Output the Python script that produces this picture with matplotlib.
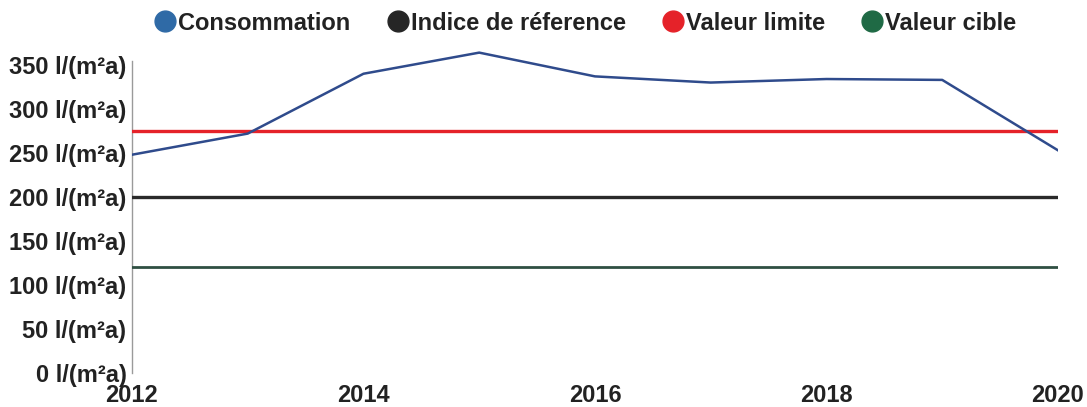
import matplotlib.pyplot as plt
from matplotlib.lines import Line2D

# data
years = [2012, 2013, 2014, 2015, 2016, 2017, 2018, 2019, 2020]
consommation = [248, 272, 340, 364, 337, 330, 334, 333, 253]
indice_reference = 200
valeur_limite = 275
valeur_cible = 120

y_ticks = [0, 50, 100, 150, 200, 250, 300, 350]
x_ticks = [2012, 2014, 2016, 2018, 2020]
unit = "l/(m²a)"

legend_names = ["Consommation", "Indice de réference", "Valeur limite", "Valeur cible"]
legend_colors = ["#2f6aa6", "#262626", "#e52229", "#1f6a45"]
line_colors = ["#2f4b8c", "#2a2a2a", "#e52229", "#2f4f42"]

plt.rcParams['font.family'] = ['Liberation Sans', 'DejaVu Sans']

fig = plt.figure(figsize=(10.87, 4.07), dpi=100)
ax = fig.add_axes([0.1214, 0.0835, 0.8519, 0.811])

ax.plot(years, consommation, color=line_colors[0], lw=1.8, zorder=4)
ax.plot([years[0], years[-1]], [valeur_limite] * 2, color=line_colors[2], lw=2.4, zorder=3)
ax.plot([years[0], years[-1]], [indice_reference] * 2, color=line_colors[1], lw=2.4, zorder=3)
ax.plot([years[0], years[-1]], [valeur_cible] * 2, color=line_colors[3], lw=2.0, zorder=3)

ax.set_xlim(years[0], years[-1])
ax.set_ylim(0, 375)
ax.set_yticks(y_ticks)
ax.set_yticklabels([f"{v} {unit}" for v in y_ticks], fontsize=17, fontweight='bold', color='#222222')
ax.set_xticks(x_ticks)
ax.set_xticklabels([str(v) for v in x_ticks], fontsize=17, fontweight='bold', color='#222222')
ax.tick_params(axis='both', length=0)
ax.tick_params(axis='y', pad=4)
ax.tick_params(axis='x', pad=8)

for side in ['top', 'right', 'bottom']:
    ax.spines[side].set_visible(False)
ax.spines['left'].set_color('#9a9a9a')
ax.spines['left'].set_linewidth(1.0)
ax.spines['left'].set_bounds(0, 355)

handles = [Line2D([], [], ls='none', marker='o', markersize=15, color=c, markeredgecolor=c)
           for c in legend_colors]
fig.legend(handles, legend_names, loc='center', bbox_to_anchor=(0.538, 0.943), ncol=4,
           frameon=False, handletextpad=0.05, columnspacing=1.5, handlelength=1.0,
           prop={'size': 17, 'weight': 'bold'}, labelcolor='#222222')

fig.savefig("out.png", dpi=100)
